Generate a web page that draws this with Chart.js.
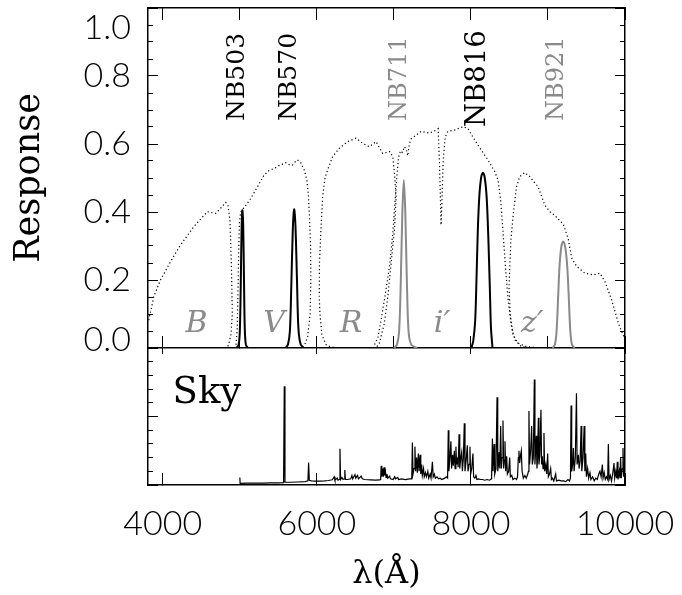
<!DOCTYPE html>
<html><head><meta charset="utf-8">
<script src="https://cdn.jsdelivr.net/npm/chart.js@4.4.1/dist/chart.umd.min.js"></script>
<style>
html,body{margin:0;padding:0;background:#fff;}
#wrap{position:relative;width:682px;height:595px;}
canvas{position:absolute;left:0;top:0;}
</style></head><body>
<div id="wrap"><canvas id="cTop" width="682" height="595"></canvas><canvas id="cBot" width="682" height="595"></canvas></div>
<script>
// ---------- axis ranges & tick values ----------
const X_MIN = 3808, X_MAX = 10000;
const topXTicks = [4000, 5000, 6000, 7000, 8000, 9000, 10000];
const bottomXTicks = [4000, 6000, 8000, 10000];
const responseMajor = [0, 0.2, 0.4, 0.6, 0.8, 1.0];
const responseMinor = [0.05, 0.1, 0.15, 0.25, 0.3, 0.35, 0.45, 0.5, 0.55, 0.65, 0.7, 0.75, 0.85, 0.9, 0.95];
const skyMajor = [0, 0.5, 1];
const skyMinor = [0.1, 0.2, 0.3, 0.4, 0.6, 0.7, 0.8, 0.9];

// ---------- broadband filter responses [wavelength, response] ----------
const bandB = [[3818,0.082],[3883,0.151],[3970,0.2],[4100,0.254],[4230,0.303],[4403,0.357],[4578,0.401],[4686,0.396],[4751,0.411],[4816,0.428],[4846,0.42],[4872,0.376],[4890,0.25],[4903,0.10],[4885,0.04],[4859,0.015],[4840,0.0]];
const bandV = [[4925,0.0],[4950,0.01],[4965,0.05],[4975,0.15],[4985,0.28],[4995,0.37],[5011,0.40],[5080,0.42],[5142,0.44],[5229,0.474],[5315,0.509],[5380,0.522],[5445,0.528],[5520,0.538],[5597,0.545],[5650,0.538],[5684,0.538],[5720,0.548],[5749,0.553],[5790,0.545],[5835,0.524],[5870,0.495],[5890,0.45],[5905,0.38],[5918,0.30],[5922,0.2],[5912,0.10],[5880,0.033],[5835,0.004]];
const bandR = [[6317,0.0],[6180,0.003],[6118,0.01],[6065,0.04],[6040,0.10],[6031,0.151],[6034,0.249],[6053,0.347],[6075,0.445],[6105,0.50],[6140,0.524],[6205,0.563],[6291,0.587],[6400,0.607],[6508,0.617],[6595,0.602],[6681,0.592],[6768,0.607],[6856,0.572],[6900,0.575],[6942,0.578],[6986,0.563],[7007,0.514],[7029,0.445],[7020,0.40],[7007,0.347],[6964,0.249],[6921,0.151],[6877,0.073],[6811,0.014],[6768,0.0]];
const bandI = [[6729,0.0],[6791,0.03],[6833,0.082],[6877,0.141],[6942,0.239],[6986,0.337],[7016,0.435],[7042,0.514],[7060,0.56],[7085,0.58],[7110,0.575],[7137,0.592],[7160,0.585],[7180,0.565],[7200,0.60],[7224,0.615],[7265,0.622],[7353,0.637],[7462,0.632],[7549,0.641],[7575,0.645],[7590,0.55],[7603,0.45],[7612,0.362],[7622,0.42],[7640,0.55],[7665,0.62],[7701,0.637],[7786,0.641],[7897,0.651],[7962,0.645],[8048,0.612],[8135,0.582],[8222,0.553],[8308,0.519],[8352,0.494],[8386,0.435],[8418,0.337],[8448,0.239],[8483,0.141],[8526,0.063],[8569,0.024],[8656,0.004],[8786,0.0]];
const bandZ = [[8916,0.0],[8721,0.004],[8613,0.014],[8545,0.04],[8510,0.10],[8495,0.18],[8504,0.24],[8520,0.32],[8548,0.39],[8591,0.474],[8634,0.504],[8699,0.516],[8764,0.504],[8873,0.474],[8959,0.42],[9030,0.40],[9089,0.39],[9150,0.375],[9198,0.365],[9264,0.32],[9307,0.265],[9372,0.24],[9480,0.22],[9589,0.215],[9675,0.22],[9740,0.195],[9827,0.141],[9914,0.073],[10000,0.024]];

// ---------- narrowband filter responses ----------
const nb503 = [[4958,0],[4985,0.01],[5000,0.05],[5012,0.18],[5022,0.34],[5033,0.405],[5044,0.36],[5054,0.20],[5064,0.06],[5078,0.01],[5105,0]];
const nb570 = [[5595,0],[5625,0.01],[5650,0.05],[5668,0.18],[5688,0.35],[5705,0.408],[5722,0.36],[5742,0.20],[5760,0.06],[5790,0.01],[5835,0]];
const nb711 = [[7000,0],[7040,0.01],[7068,0.05],[7090,0.2],[7110,0.40],[7129,0.494],[7148,0.40],[7168,0.2],[7190,0.05],[7225,0.01],[7300,0]];
const nb816 = [[8005,0],[8030,0.02],[8055,0.08],[8072,0.2],[8090,0.35],[8110,0.45],[8135,0.505],[8157,0.515],[8180,0.50],[8205,0.44],[8225,0.33],[8245,0.18],[8260,0.06],[8280,0]];
const nb921 = [[9060,0],[9090,0.01],[9112,0.05],[9132,0.15],[9150,0.24],[9175,0.30],[9199,0.313],[9225,0.295],[9250,0.24],[9270,0.15],[9290,0.05],[9312,0.01],[9345,0]];

// ---------- sky spectrum [wavelength, relative flux] ----------
const skySpectrum = [
[5000,0.055],[5004,0.012],[5100,0.013],[5200,0.013],[5300,0.014],[5400,0.015],[5500,0.016],[5568,0.017],[5577,0.72],[5586,0.02],[5650,0.02],[5750,0.022],[5850,0.025],[5884,0.03],[5893,0.164],[5902,0.035],[5930,0.03],[5980,0.028],[6040,0.028],[6100,0.03],[6150,0.033],[6200,0.038],[6225,0.06],[6235,0.035],[6265,0.05],[6275,0.035],[6292,0.04],[6300,0.265],[6308,0.04],[6325,0.055],[6340,0.04],[6355,0.045],[6363,0.11],[6371,0.04],[6400,0.04],[6440,0.045],[6455,0.07],[6465,0.045],[6495,0.075],[6505,0.05],[6528,0.07],[6540,0.045],[6575,0.065],[6590,0.045],[6620,0.04],[6700,0.038],[6760,0.036],[6815,0.037],[6828,0.04],[6835,0.14],[6843,0.06],[6855,0.12],[6863,0.06],[6872,0.13],[6880,0.07],[6890,0.10],[6898,0.055],[6910,0.08],[6920,0.05],[6945,0.065],[6955,0.045],[6990,0.04],[7010,0.06],[7020,0.045],[7050,0.055],[7060,0.04],[7100,0.045],[7150,0.04],[7200,0.045],[7232,0.045],
[7240,0.31],[7248,0.08],[7262,0.12],[7273,0.28],[7282,0.1],[7295,0.2],[7304,0.09],[7318,0.23],[7327,0.1],[7340,0.22],[7349,0.08],[7360,0.15],[7369,0.07],[7385,0.12],[7394,0.06],[7410,0.09],[7422,0.06],[7440,0.1],[7452,0.05],[7470,0.08],[7482,0.05],[7500,0.17],[7510,0.06],[7525,0.08],[7538,0.05],[7560,0.06],[7580,0.045],[7600,0.05],[7620,0.04],[7640,0.045],[7660,0.05],[7680,0.06],[7697,0.05],
[7706,0.40],[7714,0.1],[7728,0.2],[7740,0.32],[7749,0.12],[7762,0.22],[7771,0.14],[7785,0.25],[7794,0.12],[7805,0.28],[7814,0.15],[7825,0.2],[7834,0.13],[7846,0.37],[7855,0.12],[7868,0.2],[7880,0.24],[7889,0.1],[7902,0.2],[7914,0.45],[7923,0.1],[7938,0.18],[7953,0.29],[7962,0.1],[7975,0.15],[7987,0.28],[7996,0.08],[8010,0.12],[8026,0.23],[8035,0.06],[8050,0.05],[8065,0.07],[8078,0.04],[8100,0.045],[8120,0.04],[8150,0.04],[8180,0.035],[8210,0.04],[8240,0.035],[8268,0.045],
[8279,0.34],[8287,0.1],[8300,0.30],[8309,0.08],[8325,0.12],[8339,0.64],[8348,0.1],[8358,0.15],[8366,0.24],[8375,0.12],[8386,0.43],[8395,0.12],[8405,0.2],[8416,0.47],[8425,0.12],[8434,0.18],[8442,0.32],[8451,0.1],[8464,0.21],[8473,0.08],[8490,0.1],[8503,0.20],[8512,0.06],[8530,0.07],[8545,0.04],[8570,0.05],[8592,0.04],
[8605,0.06],[8615,0.2],[8623,0.25],[8632,0.16],[8645,0.22],[8654,0.25],[8664,0.1],[8680,0.05],[8700,0.07],[8718,0.05],[8738,0.08],[8746,0.1],
[8753,0.54],[8761,0.15],[8775,0.25],[8788,0.43],[8797,0.15],[8810,0.2],[8823,0.77],[8831,0.15],[8840,0.25],[8849,0.36],[8857,0.12],[8866,0.2],[8875,0.49],[8883,0.15],[8895,0.22],[8909,0.55],[8917,0.15],[8927,0.21],[8936,0.12],[8948,0.38],[8957,0.1],[8972,0.15],[8984,0.08],[8996,0.23],[9005,0.06],[9020,0.08],[9035,0.12],[9045,0.04],[9060,0.05],[9075,0.03],[9100,0.08],[9110,0.03],[9140,0.035],[9170,0.03],[9200,0.03],[9230,0.025],[9260,0.04],[9280,0.03],[9292,0.05],
[9300,0.58],[9308,0.1],[9320,0.15],[9330,0.27],[9339,0.1],[9355,0.2],[9370,0.67],[9378,0.15],[9395,0.22],[9404,0.12],[9418,0.18],[9430,0.43],[9439,0.1],[9455,0.2],[9470,0.43],[9479,0.1],[9490,0.23],[9499,0.06],[9515,0.12],[9528,0.05],[9545,0.09],[9558,0.04],[9580,0.06],[9600,0.03],[9620,0.05],[9640,0.04],[9660,0.08],[9675,0.1],[9690,0.06],[9706,0.15],[9715,0.05],[9730,0.09],[9744,0.04],[9760,0.06],[9775,0.04],[9784,0.30],[9793,0.04],[9810,0.07],[9824,0.03],[9840,0.08],[9857,0.16],[9866,0.05],[9880,0.1],[9891,0.05],[9900,0.17],[9909,0.04],[9925,0.1],[9934,0.05],[9943,0.20],[9952,0.05],[9965,0.12],[9974,0.27],[9983,0.06],[9992,0.15],[10000,0.1]
];

// ---------- labels ----------
const nbNames = ['NB503', 'NB570', 'NB711', 'NB816', 'NB921'];
const nbLabelWave = [4968, 5640, 7081, 8092, 9111];
const nbLabelBase = [0.668, 0.668, 0.668, 0.65, 0.668];
const nbLabelSize = [25, 25, 24, 27.5, 24];
const nbColors = ['#000', '#000', '#8a8a8a', '#000', '#8a8a8a'];
const bandNames = ['B', 'V', 'R', 'i\u2032', 'z\u2032'];
const bandLabelWave = [4439, 5445, 6443, 7625, 8796];

const GREY = '#8a8a8a';
const toXY = arr => arr.map(p => ({x: p[0], y: p[1]}));

function axis(position, ticksArr, len, size, extra) {
  const horizontal = position === 'top' || position === 'bottom';
  const base = {
    type: 'linear', position,
    afterBuildTicks: s => { s.ticks = ticksArr.map(v => ({value: v})); },
    grid: {display: true, drawOnChartArea: false, drawTicks: true, tickLength: -len, color: '#000', tickColor: '#000', lineWidth: 1},
    border: {display: true, color: '#000', width: 1.5},
    ticks: {display: false},
    afterFit: s => {
      if (horizontal) { s.height = size; s.paddingLeft = 0; s.paddingRight = 0; }
      else { s.width = size; s.paddingTop = 0; s.paddingBottom = 0; }
    }
  };
  if (horizontal) { base.min = X_MIN; base.max = X_MAX; }
  return Object.assign(base, extra || {});
}

function textPlugin(items) {
  return {
    id: 'txt',
    afterDatasetsDraw(chart) {
      const {ctx, scales} = chart;
      items.forEach(t => {
        const x = scales.x.getPixelForValue(t.x);
        const y = scales.y.getPixelForValue(t.y);
        ctx.save();
        ctx.translate(x, y);
        ctx.rotate(t.rot || 0);
        ctx.font = t.font;
        ctx.fillStyle = t.color;
        ctx.textAlign = t.align;
        ctx.textBaseline = t.baseline;
        ctx.fillText(t.text, 0, 0);
        ctx.restore();
      });
    }
  };
}

const topItems = [];
nbNames.forEach((n, i) => topItems.push({text: n, x: nbLabelWave[i], y: nbLabelBase[i], rot: -Math.PI / 2,
  font: nbLabelSize[i] + 'px "DejaVu Serif"', color: nbColors[i], align: 'left', baseline: 'middle'}));
bandNames.forEach((n, i) => topItems.push({text: n, x: bandLabelWave[i], y: 0.047,
  font: 'italic 30px "DejaVu Serif"', color: GREY, align: 'center', baseline: 'alphabetic'}));

const dotted = (data) => ({data: toXY(data), borderColor: '#000', borderWidth: 1.2, borderDash: [1.2, 2.6], pointRadius: 0, fill: false, tension: 0});
const solid = (data, color) => ({data: toXY(data), borderColor: color, borderWidth: 2, pointRadius: 0, fill: false, tension: 0.3});

const tickFont = {family: 'Lato', size: 34, weight: '300'};

new Chart(document.getElementById('cTop'), {
  type: 'line',
  data: {datasets: [
    dotted(bandB), dotted(bandV), dotted(bandR), dotted(bandI), dotted(bandZ),
    solid(nb503, '#000'), solid(nb570, '#000'), solid(nb711, GREY), solid(nb816, '#000'), solid(nb921, GREY)
  ]},
  options: {
    responsive: false, animation: false, devicePixelRatio: 1, events: [],
    layout: {padding: {left: 0, right: 57, top: 8, bottom: 247}},
    plugins: {legend: {display: false}, tooltip: {enabled: false}},
    scales: {
      x: axis('bottom', topXTicks, 12, 0),
      xT: axis('top', topXTicks, 12, 0),
      y: axis('left', responseMajor, 10, 148, {
        min: 0, max: 1, weight: 1,
        ticks: {display: true, autoSkip: false, padding: 27, color: '#000',
          font: ctx => {
            const v = ctx.tick ? ctx.tick.value : 0.5;
            const lh = Math.abs(v - 1) < 1e-6 ? 1.2 : (Math.abs(v) < 1e-6 ? 0.45 : 1.2);
            return {family: 'Lato', size: 34, weight: '300', lineHeight: lh};
          },
          callback: v => Math.abs(v - 1) < 1e-6 ? ['', '1.0'] : (Math.abs(v) < 1e-6 ? ['0.0', ''] : v.toFixed(1))
        },
        title: {display: true, text: 'Response', color: '#000', font: {family: 'DejaVu Serif', size: 35, lineHeight: 1}, padding: {top: 12, bottom: 0}}
      }),
      yMin: axis('left', responseMinor, 5, 0, {min: 0, max: 1, weight: 0, border: {display: false}}),
      yR: axis('right', responseMajor, 10, 0, {min: 0, max: 1, weight: 1}),
      yRMin: axis('right', responseMinor, 5, 0, {min: 0, max: 1, weight: 0, border: {display: false}})
    }
  },
  plugins: [textPlugin(topItems)]
});

const botItems = [{text: 'Sky', x: 4127, y: 0.60, rot: 0, font: '37px "DejaVu Serif"', color: '#000', align: 'left', baseline: 'alphabetic'}];

new Chart(document.getElementById('cBot'), {
  type: 'line',
  data: {datasets: [
    {data: toXY(skySpectrum), borderColor: '#000', borderWidth: 1.2, pointRadius: 0, fill: false, tension: 0}
  ]},
  options: {
    responsive: false, animation: false, devicePixelRatio: 1, events: [],
    layout: {padding: {left: 0, right: 57, top: 348, bottom: 0}},
    plugins: {legend: {display: false}, tooltip: {enabled: false}},
    scales: {
      x: axis('bottom', bottomXTicks, 12, 110, {
        ticks: {display: true, padding: 31, color: '#000', maxRotation: 0, autoSkip: false, font: tickFont, callback: v => String(v)},
        title: {display: true, text: '\u03bb(\u00c5)', color: '#000', font: {family: 'DejaVu Serif', size: 32, lineHeight: 1}, padding: {top: 0, bottom: 4}}
      }),
      xT: axis('top', bottomXTicks, 6, 0, {border: {display: false}}),
      y: axis('left', skyMajor, 10, 148, {min: 0, max: 1, weight: 1}),
      yMin: axis('left', skyMinor, 5, 0, {min: 0, max: 1, weight: 0, border: {display: false}}),
      yR: axis('right', skyMajor, 10, 0, {min: 0, max: 1, weight: 1}),
      yRMin: axis('right', skyMinor, 5, 0, {min: 0, max: 1, weight: 0, border: {display: false}})
    }
  },
  plugins: [textPlugin(botItems)]
});
</script>
</body></html>
